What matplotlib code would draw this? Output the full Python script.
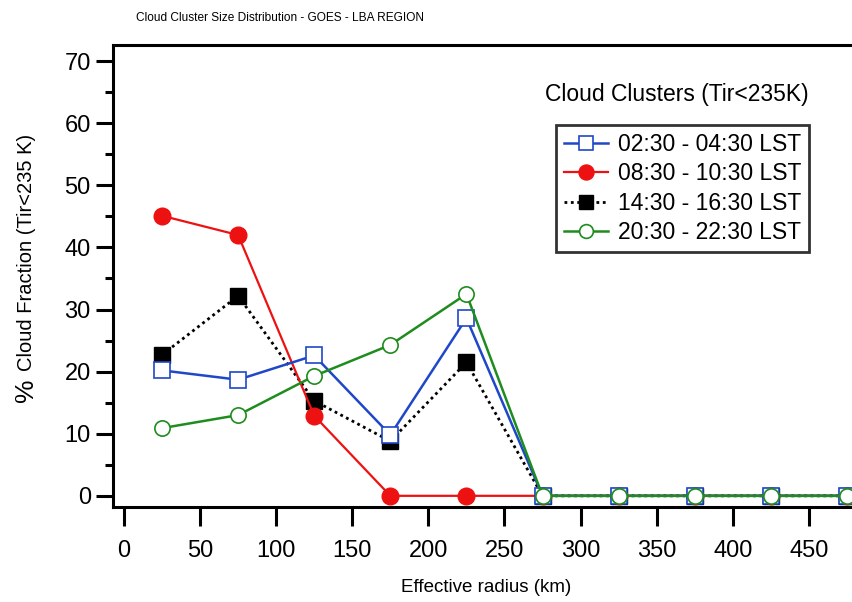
import matplotlib
matplotlib.use("Agg")
import matplotlib.pyplot as plt
from matplotlib.ticker import MultipleLocator

plt.rcParams['font.family'] = ['Liberation Sans', 'DejaVu Sans']

# Effective radius bins (km)
radius = [25, 75, 125, 175, 225, 275, 325, 375, 425, 475]

# Cloud fraction (%) per time window
night = [20.2, 18.7, 22.6, 9.8, 28.6, 0, 0, 0, 0, 0]      # 02:30 - 04:30 LST
morning = [45.1, 42.0, 12.9, 0, 0, 0, 0, 0, 0, 0]        # 08:30 - 10:30 LST
afternoon = [22.7, 32.2, 15.3, 8.8, 21.5, 0, 0, 0, 0, 0]  # 14:30 - 16:30 LST
evening = [10.9, 13.0, 19.3, 24.3, 32.5, 0, 0, 0, 0, 0]   # 20:30 - 22:30 LST

labels = ["02:30 - 04:30 LST", "08:30 - 10:30 LST",
          "14:30 - 16:30 LST", "20:30 - 22:30 LST"]

BLUE = "#1f48c8"
RED = "#ee1111"
GREEN = "#1e8c1e"

fig = plt.figure(figsize=(8.52, 6.02), dpi=100)
ax = fig.add_axes([113 / 852, (602 - 507) / 602, 1 - 113 / 852, (507 - 45) / 602])

h_black, = ax.plot(radius, afternoon, color="black", lw=2.0, ls=(0, (1, 1.3)),
                   marker="s", ms=11, mfc="black", mec="black", zorder=3)
h_red, = ax.plot(radius, morning, color=RED, lw=1.6, marker="o", ms=12,
                 mfc=RED, mec=RED, zorder=4)
h_blue, = ax.plot(radius, night, color=BLUE, lw=1.8, marker="s", ms=11,
                  mfc="white", mec=BLUE, mew=1.2, zorder=5)
h_green, = ax.plot(radius, evening, color=GREEN, lw=1.8, marker="o", ms=11,
                   mfc="white", mec=GREEN, mew=1.2, zorder=6)

ax.set_xlim(-7.2, 478.3)
ax.set_ylim(-1.8, 72.6)

ax.xaxis.set_major_locator(MultipleLocator(50))
ax.yaxis.set_major_locator(MultipleLocator(10))
ax.yaxis.set_minor_locator(MultipleLocator(5))
ax.xaxis.set_minor_locator(plt.NullLocator())

ax.tick_params(axis="both", which="major", direction="out", width=2.2,
               labelsize=17, color="black")
ax.tick_params(axis="y", which="major", length=12, pad=4)
ax.tick_params(axis="y", which="minor", length=6, width=2.2)
ax.tick_params(axis="x", which="major", length=14, pad=10)

for side in ("left", "bottom", "top"):
    ax.spines[side].set_linewidth(2.2)
ax.spines["right"].set_visible(False)

fig.text(280 / 852, 1 - 18 / 602, "Cloud Cluster Size Distribution - GOES - LBA REGION",
         ha="center", va="center", fontsize=8.6)
fig.text(486 / 852, 1 - 588 / 602, "Effective radius (km)",
         ha="center", va="center", fontsize=13.5)
fig.text(26 / 852, 1 - 390 / 602, "%", rotation=90, ha="center", va="center",
         fontsize=19)
fig.text(27 / 852, 1 - 252 / 602, "Cloud Fraction (Tir<235 K)", rotation=90,
         ha="center", va="center", fontsize=14.5)

fig.text(677 / 852, 1 - 95 / 602, "Cloud Clusters (Tir<235K)",
         ha="center", va="center", fontsize=16.5)

leg = ax.legend([h_blue, h_red, h_black, h_green], labels,
                loc="upper left", bbox_to_anchor=(556 / 852, 1 - 125 / 602),
                bbox_transform=fig.transFigure, fontsize=16.5,
                frameon=True, fancybox=False, handlelength=1.9,
                handletextpad=0.45, borderpad=0.35, labelspacing=0.28,
                borderaxespad=0, markerscale=0.9)
leg.get_frame().set_edgecolor("black")
leg.get_frame().set_linewidth(2.0)

fig.savefig("out.png", dpi=100)
